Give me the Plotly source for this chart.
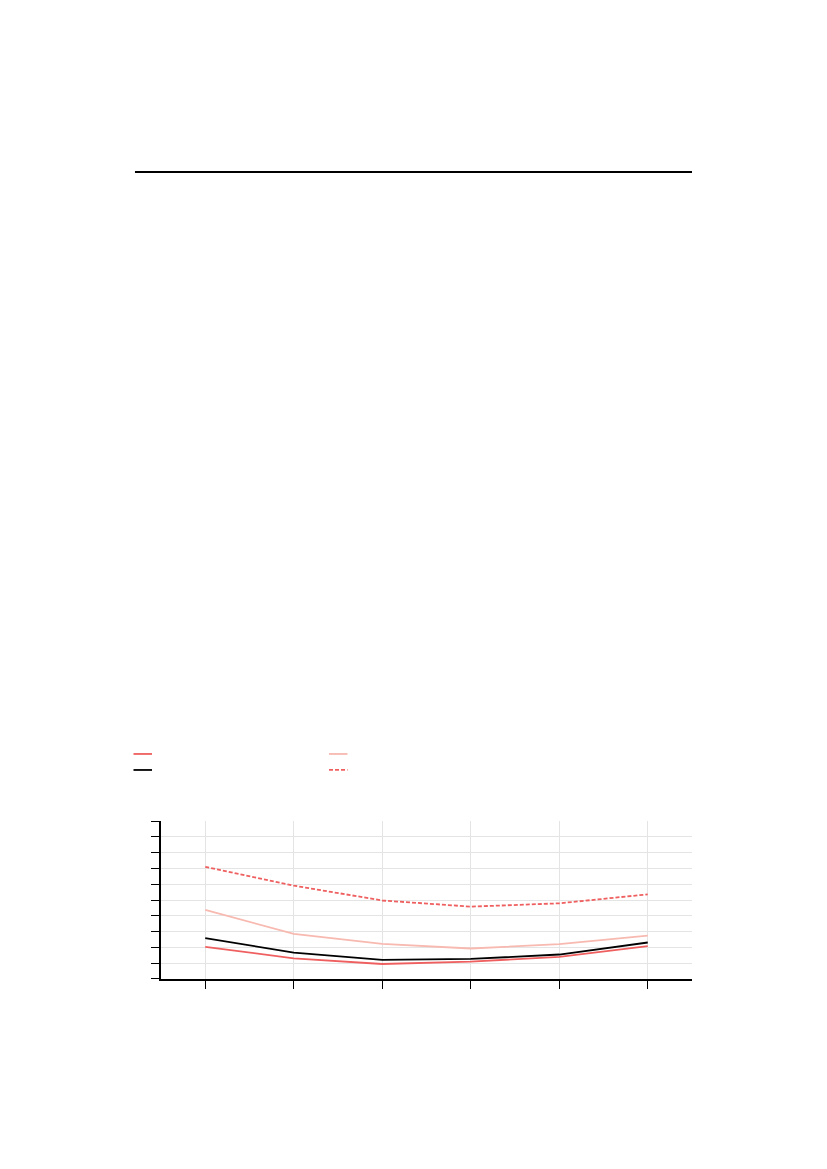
import plotly.graph_objects as go

x_vals = [1, 2, 3, 4, 5, 6]
series_red = [2.03, 1.31, 0.95, 1.10, 1.40, 2.08]
series_pink = [4.37, 2.86, 2.22, 1.93, 2.21, 2.75]
series_black = [2.59, 1.67, 1.21, 1.27, 1.55, 2.31]
series_dashed = [7.10, 5.91, 4.97, 4.58, 4.79, 5.36]

RED = "#ef5f5f"
PINK = "#f7b9b0"
BLACK = "#000000"
DASH = "4px,2px"

series = [
    (series_red, RED, "solid"),
    (series_pink, PINK, "solid"),
    (series_black, BLACK, "solid"),
    (series_dashed, RED, DASH),
]

fig = go.Figure()
for ys, col, dash in series:
    fig.add_trace(go.Scatter(x=x_vals, y=ys, mode="lines", showlegend=False,
                             line=dict(color=col, width=1.8, dash=dash)))

# legend keys (no text in the reference)
legend_pos = [(-0.0518, -0.0169, 0.2741), (0.3164, 0.3512, 0.2741),
              (-0.0518, -0.0169, 0.2546), (0.3164, 0.3512, 0.2546)]
shapes = []
for (ys, col, dash), (lx0, lx1, ly) in zip(series, legend_pos):
    shapes.append(dict(type="line", xref="paper", yref="paper",
                       x0=lx0, x1=lx1, y0=ly, y1=ly,
                       line=dict(color=col, width=1.8, dash=dash)))
shapes.append(dict(type="line", xref="paper", yref="paper",
                   x0=-0.049, x1=1.0, y0=0.983, y1=0.983,
                   line=dict(color="black", width=2)))

fig.update_layout(
    width=819, height=1161,
    margin=dict(l=153, r=135, t=150, b=190),
    paper_bgcolor="white", plot_bgcolor="white",
    showlegend=False,
    xaxis=dict(range=[0.5, 6.5], tickvals=x_vals, showticklabels=False,
               ticks="outside", ticklen=8, tickcolor="black", tickwidth=1,
               showgrid=True, gridcolor="#e4e4e4", gridwidth=1,
               showline=True, linecolor="black", linewidth=2, zeroline=False,
               fixedrange=True),
    yaxis=dict(range=[0, 10], dtick=1, tick0=0, showticklabels=False,
               ticks="outside", ticklen=8, tickcolor="black", tickwidth=1,
               showgrid=True, gridcolor="#e4e4e4", gridwidth=1,
               showline=True, linecolor="black", linewidth=2, zeroline=False,
               domain=[0, 0.1924], fixedrange=True),
    shapes=shapes,
)

fig.write_html("out.html")
